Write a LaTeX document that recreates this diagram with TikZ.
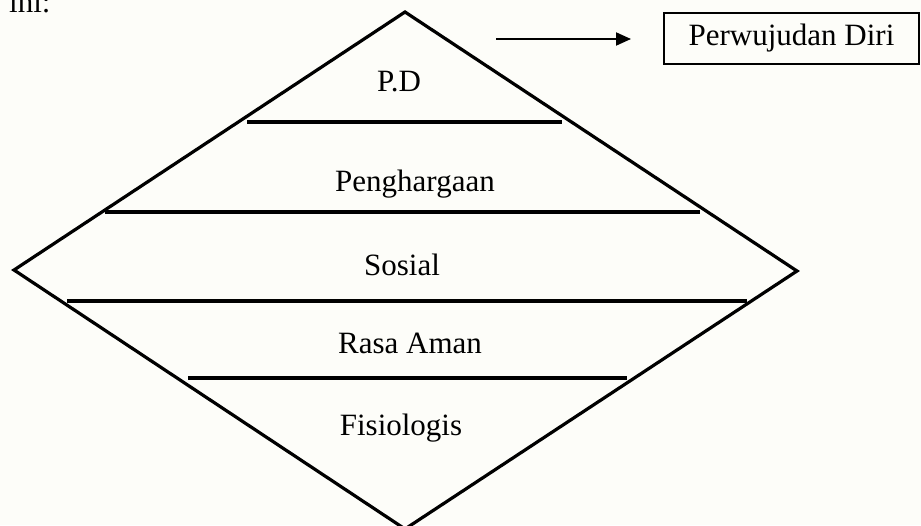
\documentclass[tikz,border=0pt]{standalone}
\usepackage{fontspec}
\setmainfont{Liberation Serif}
\usetikzlibrary{arrows.meta}
\definecolor{paper}{RGB}{253,253,249}
\begin{document}
\begin{tikzpicture}[x=1pt,y=-1pt,
  level/.style={line width=3.8pt},
  edge/.style={line width=3.2pt,line join=miter},
  label/.style={font=\fontsize{31}{36}\selectfont,anchor=base,inner sep=0pt},
  box/.style={draw,line width=2pt,minimum width=255pt,minimum height=51pt,inner sep=0pt,
              font=\fontsize{31}{36}\selectfont},
  pointer/.style={line width=2pt,-{Triangle[length=15pt,width=13pt]}}]
  % page area
  \path[fill=paper,use as bounding box] (0,0) rectangle (921,525);
  \clip (0,0) rectangle (921,525);

  % diamond outline
  \coordinate (top) at (405,12);
  \coordinate (left) at (14,270);
  \coordinate (right) at (797,271);
  \coordinate (bottom) at (405,529);
  \draw[edge] (top) -- (right) -- (bottom) -- (left) -- cycle;

  % level dividers
  \draw[level] (247,122) -- (562,122);
  \draw[level] (105,212) -- (700,212);
  \draw[level] (67,301) -- (747,301);
  \draw[level] (188,378) -- (627,378);

  % level names
  \node[label] (pd) at (399,91) {P.D};
  \node[label] (harga) at (415,191) {Penghargaan};
  \node[label] (sosial) at (402,275) {Sosial};
  \node[label] (aman) at (410,353) {Rasa Aman};
  \node[label] (fisio) at (401,435) {Fisiologis};

  % legend
  \node[box] (diri) at (791.5,38.5) {Perwujudan Diri};
  \coordinate (from) at (496,39);
  \coordinate (to) at (631,39);
  \draw[pointer] (from) -- (to);

  % running text above
  \node[label,anchor=base west] (ini) at (9,12) {ini:};
\end{tikzpicture}
\end{document}
